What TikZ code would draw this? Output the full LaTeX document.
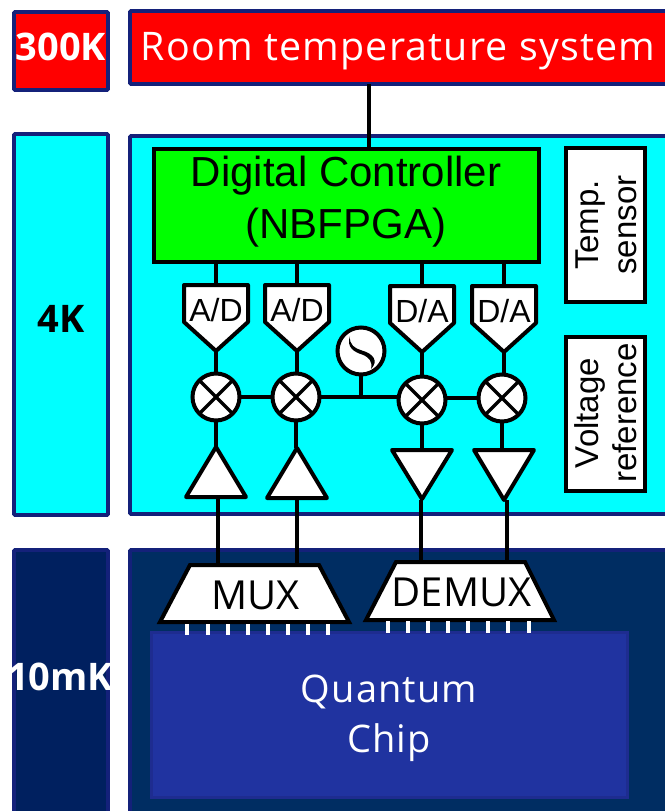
\documentclass[tikz,border=0pt]{standalone}
\usepackage{fontspec}
\setmainfont{Liberation Sans}
\newfontfamily\lightfont[LetterSpace=3]{Open Sans}
\newfontfamily\plainlight{Open Sans}
\newfontfamily\boldfont{Open Sans}[BoldFont=* Bold]
\usetikzlibrary{calc}
\definecolor{navyedge}{HTML}{14217A}
\definecolor{deepblue}{HTML}{002D62}
\definecolor{chipblue}{HTML}{2033A0}
\definecolor{chipedge}{HTML}{1E2C90}
\definecolor{tenmk}{HTML}{00205F}
\definecolor{pcyan}{RGB}{0,255,255}
\definecolor{pgreen}{RGB}{0,255,0}
\definecolor{pred}{RGB}{255,0,0}
\tikzset{
 panel/.style={draw=navyedge,line width=3.7pt,rounded corners=1pt,inner sep=0pt,outer sep=0pt,anchor=north west},
 blk/.style={draw=black,line width=3.7pt,inner sep=0pt,outer sep=0pt,anchor=north west},
 wire/.style={draw=black,line width=4pt},
 outline/.style={draw=black,line width=4pt,fill=white,line join=round},
 slot/.style={inner sep=0pt,outer sep=0pt,text=black},
 mixer/.style={circle,draw=black,line width=4pt,fill=white,minimum size=47pt,inner sep=0pt,outer sep=0pt},
 tick/.style={draw=white,line width=4pt},
 temp/.style={font=\boldfont\bfseries\fontsize{38}{38}\selectfont},
 big/.style={font=\fontsize{42}{52}\selectfont,align=center},
 conv/.style={font=\fontsize{32}{32}\selectfont},
 side/.style={font=\fontsize{33}{38}\selectfont,align=center,rotate=90},
}
\begin{document}
\begin{tikzpicture}[x=1pt,y=-1pt]
\useasboundingbox (0,0) rectangle (664,811);
% temperature panels
\node[panel,fill=pred,minimum width=94pt,minimum height=78pt] (t300) at (14,12) {};
\node[panel,fill=pcyan,minimum width=94pt,minimum height=381pt] (t4) at (14,134) {};
\node[panel,fill=tenmk,minimum width=94pt,minimum height=270pt] (t10) at (14,550) {};
\node[panel,fill=pred,minimum width=540pt,minimum height=73pt] (room) at (130,11) {};
\node[panel,fill=pcyan,minimum width=540pt,minimum height=378pt] (main4) at (130,136) {};
\node[panel,fill=deepblue,minimum width=540pt,minimum height=270pt] (main10) at (130,550) {};
\node[temp,text=white] (l300) at (61,47) {300K};
\node[temp,text=black] (l4) at (61,319) {4K};
\node[temp,text=white] (l10) at (60,677) {10mK};
\node[font=\lightfont\fontsize{39.4}{39.4}\selectfont,text=white] (roomtext) at (398,51) {Room temperature system};
% boxes
\node[blk,fill=pgreen,minimum width=385pt,minimum height=113pt] (ctrl) at (154,149) {};
\node[big] (ctrltext) at (346,202) {Digital Controller\\(NBFPGA)};
\node[blk,fill=white,minimum width=79pt,minimum height=154pt] (tempbox) at (566,148) {};
\node[side] at (606,225) (templabel) {Temp.\\sensor};
\node[blk,fill=white,minimum width=79pt,minimum height=154pt] (vrefbox) at (566,337) {};
\node[side] at (606,413) (vreflabel) {Voltage\\reference};
% converters
\newcommand{\conv}[4]{%
 \draw[outline] (#2-32,#3)--(#2+32,#3)--(#2+32,#3+37)--(#2,#3+66)--(#2-32,#3+37)--cycle;
 \node[slot,minimum width=64pt,minimum height=66pt] (#1) at (#2,#3+33) {};
 \node[conv] (#1t) at (#2,#3+25) {#4};}
\conv{ad1}{216}{285}{A/D}
\conv{ad2}{297}{285}{A/D}
\conv{da1}{422}{286}{D/A}
\conv{da2}{504}{286}{D/A}
% mixers
\newcommand{\mixer}[3]{%
 \node[mixer] (#1) at (#2,#3) {};
 \draw[line width=3.5pt] (#1.north west)--(#1.south east) (#1.north east)--(#1.south west);}
\mixer{m1}{216}{397}
\mixer{m2}{296}{397}
\mixer{m3}{422}{400}
\mixer{m4}{502}{398}
% oscillator
\node[mixer] (osc) at (361,351) {};
\fill[black] (350,336) .. controls (346,347) and (354,352) .. (362,354.5) .. controls (369,357) and (373,362) .. (371,369) .. controls (379,361) and (373,353.5) .. (362,350.5) .. controls (355,348.5) and (349,345) .. (350,336) -- cycle;
% amplifiers
\newcommand{\ampup}[4]{%
 \draw[outline] (#2,#3)--(#2+30,#4)--(#2-30,#4)--cycle;
 \node[slot,minimum width=60pt,minimum height=50pt] (#1) at (#2,{(#3+#4)/2}) {};}
\newcommand{\ampdown}[4]{%
 \draw[outline] (#2,#4)--(#2+30,#3)--(#2-30,#3)--cycle;
 \node[slot,minimum width=60pt,minimum height=50pt] (#1) at (#2,{(#3+#4)/2}) {};}
\ampup{a1}{216}{447}{497}
\ampup{a2}{297}{448}{498}
\ampdown{a3}{422}{450}{499}
\ampdown{a4}{504}{450}{500}
% mux
\draw[outline,line join=miter] (190,565)--(319,565)--(349,622)--(160,622)--cycle;
\node[slot,minimum width=189pt,minimum height=57pt] (mux) at (254.5,593.5) {};
\node[font=\plainlight\fontsize{40}{40}\selectfont] (muxt) at (255.6,595) {MUX};
\draw[outline,line join=miter] (396,562)--(525,562)--(554,620)--(366,620)--cycle;
\node[slot,minimum width=188pt,minimum height=58pt] (demux) at (460,591) {};
\node[font=\plainlight\fontsize{40}{40}\selectfont] (demuxt) at (461.6,592) {DEMUX};
% chip
\node[draw=chipedge,line width=3pt,fill=chipblue,inner sep=0pt,outer sep=0pt,anchor=north west,minimum width=476pt,minimum height=165pt] (chip) at (151,632.5) {};
\foreach \x in {187,207.5,228,247.5,268,287.5,308,328} \draw[tick] (\x,624)--(\x,635);
\foreach \x in {388,408,428,448,468,488,508,528.5} \draw[tick] (\x,621)--(\x,632.5);
\node[font=\lightfont\fontsize{38}{50}\selectfont,text=white,align=center] (chiptext) at (389,718) {Quantum\\Chip};
% connectors
\draw[wire] (369,0 |- room.south)--(369,0 |- ctrl.north);
\draw[wire] (ad1.north |- ctrl.south)--(ad1.north);
\draw[wire] (ad2.north |- ctrl.south)--(ad2.north);
\draw[wire] (da1.north |- ctrl.south)--(da1.north);
\draw[wire] (da2.north |- ctrl.south)--(da2.north);
\draw[wire] (ad1.south)--(ad1.south |- m1.north);
\draw[wire] (ad2.south)--(ad2.south |- m2.north);
\draw[wire] (da1.south)--(da1.south |- m3.north);
\draw[wire] (da2.south)--(da2.south |- m4.north);
\draw[wire] (m1.east)--(m2.west);
\draw[wire] (m2.east)--(m2.east -| m3.west);
\draw[wire] (m3.east |- m4.west)--(m4.west);
\draw[wire] (osc.south)--(osc.south |- m2.east);
\draw[wire] (m1.south)--(m1.south |- a1.north);
\draw[wire] (m2.south)--(m2.south |- a2.north);
\draw[wire] (m3.south)--(m3.south |- a3.north);
\draw[wire] (m4.south)--(m4.south |- a4.north);
\draw[wire] (218,0 |- a1.south)--(218,0 |- mux.north);
\draw[wire] (297,0 |- a2.south)--(297,0 |- mux.north);
\draw[wire] (421,0 |- a3.south)--(421,0 |- demux.north);
\draw[wire] (507,0 |- a4.south)--(507,0 |- demux.north);
\end{tikzpicture}
\end{document}
